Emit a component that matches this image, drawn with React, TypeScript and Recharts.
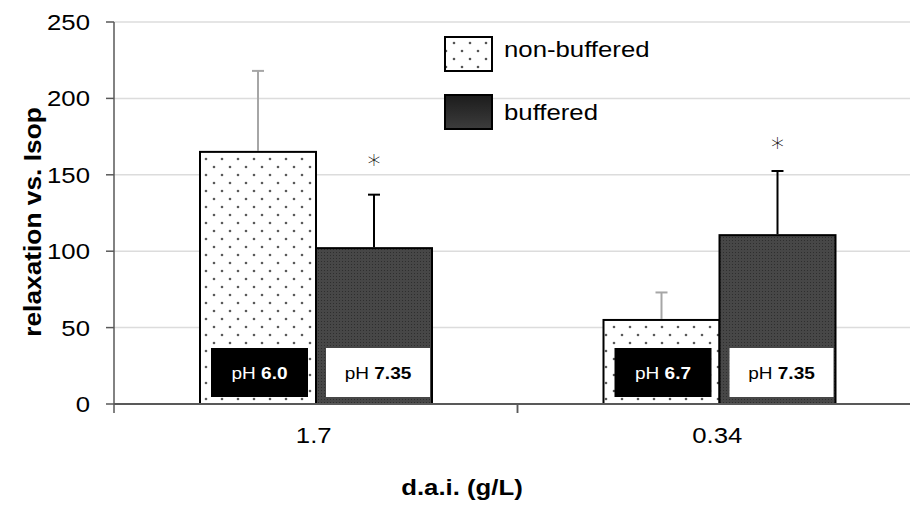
import React from 'react';
import { BarChart, Bar, XAxis, YAxis, CartesianGrid, Legend } from 'recharts';

// ---- data ----
const categories = ['1.7', '0.34'];
const nonBuffered = [165, 55];
const nonBufferedErr = [53, 18];
const buffered = [102, 110.5];
const bufferedErr = [35, 42];
const nonBufferedPH = ['6.0', '6.7'];
const bufferedPH = ['7.35', '7.35'];
const significanceAt = [160, 171];
const yTicks = [0, 50, 100, 150, 200, 250];
const seriesNames = ['non-buffered', 'buffered'];

const data = categories.map((c, i) => ({
  dose: c,
  nonBuffered: nonBuffered[i],
  nbErr: nonBufferedErr[i],
  buffered: buffered[i],
  bErr: bufferedErr[i],
  nbPH: nonBufferedPH[i],
  bPH: bufferedPH[i],
  sig: significanceAt[i],
}));

// ---- layout ----
const W = 921;
const H = 506;
const MARGIN = { top: 22, right: 0, bottom: 42, left: 0 };
const Y_AXIS_W = 114;
const X_AXIS_H = 60;
const HALF_BAND = (W - MARGIN.left - MARGIN.right - Y_AXIS_W) / categories.length / 2;
const SX = 1.12;
const FONT = '"Liberation Sans", Arial, sans-serif';
const AXIS = '#595959';

const STxt = ({ x, y, size, anchor = 'middle', weight = 'normal', fill = '#000', rotate = 0, children }: any) => (
  <text
    transform={`translate(${x},${y})${rotate ? ` rotate(${rotate})` : ''} scale(${SX},1)`}
    fontSize={size}
    fontFamily={FONT}
    fontWeight={weight}
    textAnchor={anchor}
    fill={fill}
  >
    {children}
  </text>
);

const YTick = (p: any) => (
  <STxt x={p.x} y={p.y + 8} anchor="end" size={23}>
    {p.payload.value}
  </STxt>
);

const XTick = (p: any) => (
  <g>
    <line x1={p.x - HALF_BAND} x2={p.x - HALF_BAND} y1={p.y} y2={p.y + 9} stroke={AXIS} strokeWidth={1.5} />
    <line x1={p.x + HALF_BAND} x2={p.x + HALF_BAND} y1={p.y} y2={p.y + 9} stroke={AXIS} strokeWidth={1.5} />
    <STxt x={p.x - 2} y={p.y + 39} size={23}>
      {p.payload.value}
    </STxt>
  </g>
);

const makeShape = (kind: 'nb' | 'b') => (p: any) => {
  const { x, y, width, height, payload } = p;
  const val = kind === 'nb' ? payload.nonBuffered : payload.buffered;
  const err = kind === 'nb' ? payload.nbErr : payload.bErr;
  const ph = kind === 'nb' ? payload.nbPH : payload.bPH;
  const ppu = height / val;
  const base = y + height;
  const cx = x + width / 2;
  const yErr = base - (val + err) * ppu;
  const errColor = kind === 'nb' ? '#a6a6a6' : '#000';
  const boxX = kind === 'nb' ? x + 11 : x + 10;
  const boxW = kind === 'nb' ? width - 19 : width - 12;
  const boxH = 49;
  const boxY = base - 7 - boxH;
  const boxFill = kind === 'nb' ? '#000' : '#fff';
  const txtFill = kind === 'nb' ? '#fff' : '#000';
  return (
    <g>
      <rect x={x} y={y} width={width} height={height} fill={kind === 'nb' ? 'url(#dotsNB)' : 'url(#denseB)'} stroke="#000" strokeWidth={2} />
      <line x1={cx} x2={cx} y1={y - 1} y2={yErr} stroke={errColor} strokeWidth={2} />
      <line x1={cx - 6} x2={cx + 6} y1={yErr} y2={yErr} stroke={errColor} strokeWidth={2} />
      <rect x={boxX} y={boxY} width={boxW} height={boxH} fill={boxFill} />
      <text
        transform={`translate(${boxX + boxW / 2},${boxY + boxH / 2 + 6}) scale(${SX},1)`}
        fontSize={17}
        fontFamily={FONT}
        textAnchor="middle"
        fill={txtFill}
      >
        <tspan>{'pH\u00A0'}</tspan>
        <tspan fontWeight="bold">{ph}</tspan>
      </text>
      {kind === 'b' && (
        <text
          x={cx}
          y={base - payload.sig * ppu + 14}
          fontSize={26}
          fontFamily='"DejaVu Sans", sans-serif'
          fontWeight="300"
          textAnchor="middle"
          fill="#000"
        >
          *
        </text>
      )}
    </g>
  );
};

const LegendContent = ({ payload }: any) => {
  const items = [...(payload || [])].sort(
    (a: any, b: any) => seriesNames.indexOf(a.value) - seriesNames.indexOf(b.value)
  );
  return (
    <svg width={260} height={110} style={{ overflow: 'visible' }}>
      <defs>
        <linearGradient id="legB" x1="0" y1="0" x2="0" y2="1">
          <stop offset="0" stopColor="#1c1c1c" />
          <stop offset="1" stopColor="#3c3c3c" />
        </linearGradient>
        <pattern id="legDots" width="16" height="16" patternUnits="userSpaceOnUse" x="3" y="2">
          <rect width="16" height="16" fill="#fff" />
          <circle cx="4" cy="4" r="1.3" fill="#555" />
          <circle cx="12" cy="12" r="1.3" fill="#555" />
        </pattern>
      </defs>
      {items.map((e: any, i: number) => (
        <g key={e.value}>
          <rect
            x={6}
            y={8 + i * 58}
            width={47}
            height={34}
            fill={e.value === seriesNames[0] ? 'url(#legDots)' : 'url(#legB)'}
            stroke="#000"
            strokeWidth={2}
          />
          <STxt x={65} y={28 + i * 63} size={23} anchor="start">
            {e.value}
          </STxt>
        </g>
      ))}
    </svg>
  );
};

export default function App() {
  return (
    <div style={{ position: 'absolute', left: 0, top: 0, width: 910, height: 506, overflow: 'hidden', background: '#fff' }}>
      <BarChart width={W} height={H} data={data} margin={MARGIN} barGap={0}>
        <defs>
          <pattern id="dotsNB" width="16" height="16" patternUnits="userSpaceOnUse" x="2" y="3">
            <rect width="16" height="16" fill="#fff" />
            <circle cx="4" cy="4" r="1.3" fill="#5a5a5a" />
            <circle cx="12" cy="12" r="1.3" fill="#5a5a5a" />
          </pattern>
          <pattern id="denseB" width="3" height="3" patternUnits="userSpaceOnUse">
            <rect width="3" height="3" fill="#474747" />
            <rect width="1" height="1" fill="#2e2e2e" />
          </pattern>
        </defs>
        <CartesianGrid horizontal vertical={false} stroke="#dcdcdc" strokeWidth={1.5} />
        <XAxis
          dataKey="dose"
          height={X_AXIS_H}
          axisLine={{ stroke: AXIS, strokeWidth: 2 }}
          tickLine={false}
          tickSize={0}
          tickMargin={0}
          tick={<XTick />}
          interval={0}
          label={() => (
            <STxt x={462} y={495} size={23} weight="bold">
              d.a.i. (g/L)
            </STxt>
          )}
        />
        <YAxis
          width={Y_AXIS_W}
          domain={[0, 250]}
          ticks={yTicks}
          interval={0}
          axisLine={{ stroke: AXIS, strokeWidth: 1.5 }}
          tickLine={{ stroke: AXIS, strokeWidth: 1.5 }}
          tickSize={8}
          tickMargin={16}
          tick={<YTick />}
          label={() => (
            <STxt x={41} y={222} size={23.5} weight="bold" rotate={-90}>
              relaxation vs. Isop
            </STxt>
          )}
        />
        <Legend
          layout="horizontal"
          verticalAlign="middle"
          align="center"
          content={<LegendContent />}
          wrapperStyle={{ position: 'absolute', left: 439, top: 29, width: 260, height: 110 }}
        />
        <Bar dataKey="nonBuffered" name={seriesNames[0]} fill="#ffffff" barSize={116} isAnimationActive={false} shape={makeShape('nb')} />
        <Bar dataKey="buffered" name={seriesNames[1]} fill="#404040" barSize={116} isAnimationActive={false} shape={makeShape('b')} />
      </BarChart>
    </div>
  );
}
